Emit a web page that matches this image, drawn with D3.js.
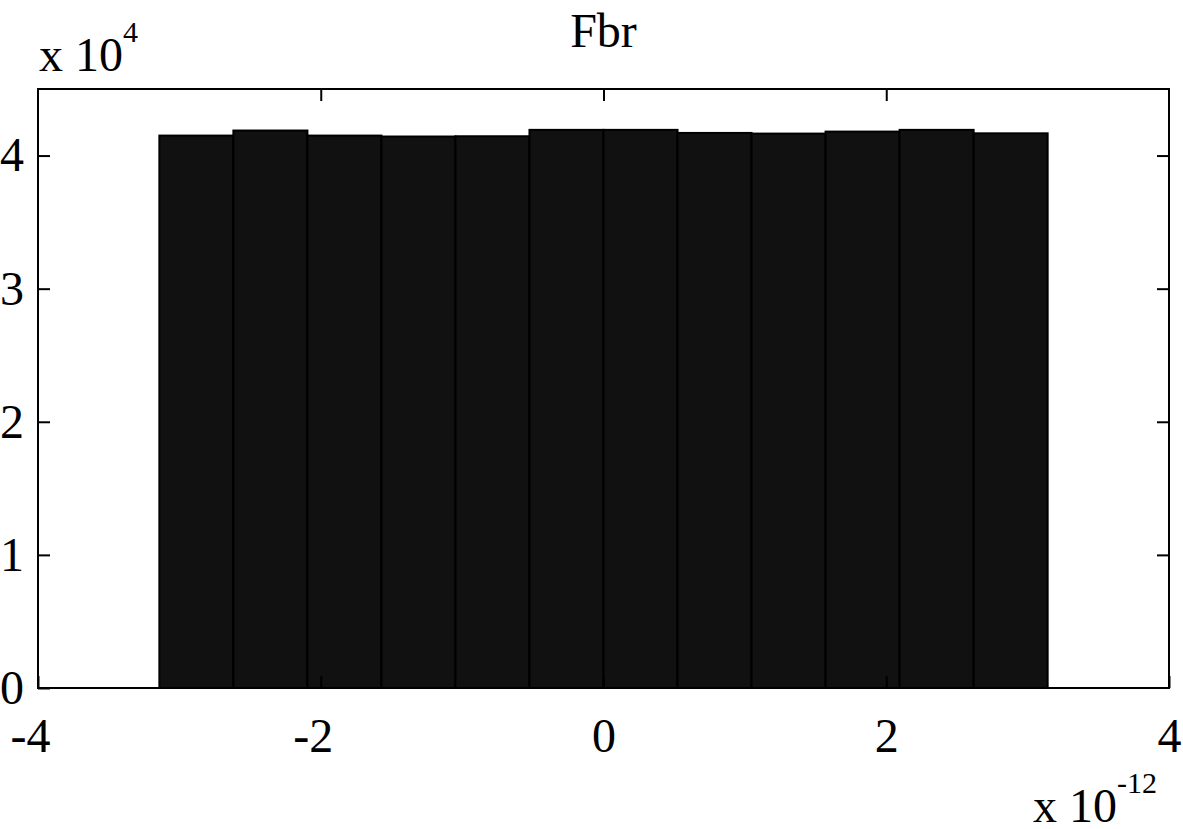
<!DOCTYPE html>
<html>
<head>
<meta charset="utf-8">
<script src="https://cdn.jsdelivr.net/npm/d3@7"></script>
<style>
  body { margin: 0; background: #fff; }
  svg text { font-family: "Liberation Serif", "Times New Roman", serif; fill: #000; }
</style>
</head>
<body>
<svg id="chart" width="1183" height="829"></svg>
<script>
// Histogram bin centres (x 10^-12) and counts (x 10^4)
var binCenters = [-2.8798, -2.3562, -1.8326, -1.3090, -0.7854, -0.2618,
                  0.2618, 0.7854, 1.3090, 1.8326, 2.3562, 2.8798];
var binCounts = [4.150, 4.188, 4.150, 4.143, 4.145, 4.193,
                 4.193, 4.170, 4.165, 4.180, 4.193, 4.167];
var binWidth = 0.5236;
var xTicks = [-4, -2, 0, 2, 4];
var yTicks = [0, 1, 2, 3, 4];
var titleText = "Fbr";

var svg = d3.select("#chart");
var plotLeft = 38, plotRight = 1169, plotTop = 89, plotBottom = 688;

var x = d3.scaleLinear().domain([-4, 4]).range([plotLeft, plotRight]);
var y = d3.scaleLinear().domain([0, 4.5]).range([plotBottom, plotTop]);

// Bars
svg.append("g").selectAll("rect")
  .data(binCenters)
  .enter().append("rect")
  .attr("x", (d) => x(d - binWidth / 2))
  .attr("width", (d) => x(d + binWidth / 2) - x(d - binWidth / 2))
  .attr("y", (d, i) => y(binCounts[i]))
  .attr("height", (d, i) => y(0) - y(binCounts[i]))
  .attr("fill", "#111111")
  .attr("stroke", "#000")
  .attr("stroke-width", 2);

// Box around the plot
svg.append("rect")
  .attr("x", plotLeft).attr("y", plotTop)
  .attr("width", plotRight - plotLeft).attr("height", plotBottom - plotTop)
  .attr("fill", "none").attr("stroke", "#000").attr("stroke-width", 2);

// plain hyphen for negatives, like the original
var fmt = (d) => (d < 0 ? "-" + Math.abs(d) : "" + d);

// Axes with ticks pointing inward (MATLAB style)
var fontSize = 48;
var xAxis = d3.axisBottom(x).tickValues(xTicks).tickSize(-12).tickPadding(30).tickFormat(fmt);
var gx = svg.append("g").attr("transform", "translate(0," + plotBottom + ")").call(xAxis);
var xTop = d3.axisTop(x).tickValues(xTicks.slice(1, -1)).tickSize(-12).tickFormat("");
svg.append("g").attr("transform", "translate(0," + plotTop + ")").call(xTop);

var yAxis = d3.axisLeft(y).tickValues(yTicks).tickSize(-12).tickPadding(14).tickFormat(fmt);
var gy = svg.append("g").attr("transform", "translate(" + plotLeft + ",0)").call(yAxis);
var yRight = d3.axisRight(y).tickValues(yTicks.slice(1)).tickSize(-12).tickFormat("");
svg.append("g").attr("transform", "translate(" + plotRight + ",0)").call(yRight);

svg.selectAll(".domain").remove();
svg.selectAll(".tick line").attr("stroke", "#000").attr("stroke-width", 2);
svg.selectAll(".tick text")
  .style("font-family", '"Liberation Serif", "Times New Roman", serif')
  .style("font-size", fontSize + "px")
  .attr("fill", "#000");

// Negative labels sit a bit left of their tick
gx.selectAll(".tick text").attr("dx", (d) => d < 0 ? "-8px" : "0px");

// Title
svg.append("text")
  .attr("x", x(0)).attr("y", 47)
  .attr("text-anchor", "middle")
  .style("font-size", fontSize + "px")
  .text(titleText);

// Exponent labels
var yExp = svg.append("text").attr("x", 39).attr("y", 71).style("font-size", fontSize + "px");
yExp.append("tspan").text("x 10");
yExp.append("tspan").attr("dy", -29).style("font-size", "30px").text("4");

var xExp = svg.append("text").attr("x", 1033).attr("y", 822).style("font-size", fontSize + "px");
xExp.append("tspan").text("x 10");
xExp.append("tspan").attr("dy", -29).style("font-size", "30px").text("-12");
</script>
</body>
</html>
